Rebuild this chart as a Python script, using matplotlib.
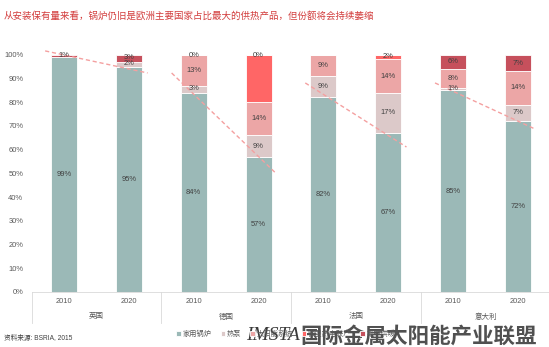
import matplotlib
matplotlib.use("Agg")
import matplotlib.pyplot as plt

plt.rcParams['font.family'] = ['Liberation Sans', 'Noto Sans CJK SC', 'DejaVu Sans']

countries = ["英国", "德国", "法国", "意大利"]
years = ["2010", "2020"]

series_names = ["家用锅炉", "热泵", "太阳能系统", "微型热电联产", "集中供暖"]
series_colors = ["#9bb9b7", "#dcc9c9", "#eca6a6", "#ff6666", "#c6505c"]

# shares per bar: UK10, UK20, DE10, DE20, FR10, FR20, IT10, IT20
boiler   = [99, 95, 84, 57, 82, 67, 85, 72]
heatpump = [0, 2, 3, 9, 9, 17, 1, 7]
solar    = [0, 0, 13, 14, 9, 14, 8, 14]
microchp = [0, 0, 0, 20, 0, 2, 0, 0]
district = [1, 3, 0, 0, 0, 0, 6, 7]

# which segment values carry a printed label
show_label = [
    [True] * 8,
    [False, True, True, True, True, True, True, True],
    [False, False, True, True, True, True, True, True],
    [False, False, False, False, False, True, False, False],
    [True, True, True, True, False, False, True, True],
]

# dashed trend guides per country (x in bar index units, y in %)
trend_lines = [
    ((-0.29, 101.6), (1.29, 92.3)),
    ((1.66, 92.3), (3.28, 49.7)),
    ((3.72, 88.1), (5.28, 61.1)),
    ((5.72, 88.1), (7.26, 68.7)),
]

W, H = 549, 347
fig = plt.figure(figsize=(W / 100, H / 100), dpi=100)

ax_left, ax_right = 31.5 / W, 550.5 / W
ax_bot, ax_top = (H - 292) / H, (H - 54.7) / H
ax = fig.add_axes([ax_left, ax_bot, ax_right - ax_left, ax_top - ax_bot])

series = [boiler, heatpump, solar, microchp, district]
xs = list(range(8))
bottoms = [0] * 8
for vals, col, name, lab in zip(series, series_colors, series_names, show_label):
    ax.bar(xs, vals, width=0.4, bottom=bottoms, color=col, edgecolor="white",
           linewidth=0.6, label=name)
    for i, v in enumerate(vals):
        if lab[i]:
            y = bottoms[i] + v / 2
            if v <= 3:
                y = bottoms[i] + v / 2 + 0.3
            if v == 0:
                y = bottoms[i] - 0.2
            if name == "家用锅炉":
                y = v / 2
            ax.text(i, y, f"{v}%", ha="center", va="center", fontsize=5.4,
                    color="#404040", zorder=6)
    bottoms = [b + v for b, v in zip(bottoms, vals)]

for (x0, y0), (x1, y1) in trend_lines:
    ax.plot([x0, x1], [y0, y1], ls=(0, (3, 2)), color="#f4a0a0", lw=1.0,
            zorder=5, clip_on=False)

ax.set_xlim(-0.5, 7.5)
ax.set_ylim(0, 100)
ax.set_yticks(range(0, 101, 10))
ax.set_yticklabels([f"{t}%" for t in range(0, 101, 10)], fontsize=5.4,
                   color="#595959")
ax.tick_params(axis="y", length=0, pad=6)
ax.set_xticks([])
for s in ["top", "right", "left"]:
    ax.spines[s].set_visible(False)
ax.spines["bottom"].set_color("#d9d9d9")
ax.spines["bottom"].set_linewidth(0.6)

# two-level category axis
for i in range(8):
    ax.text(i, -3.8, years[i % 2], ha="center", va="center", fontsize=5.4,
            color="#595959", clip_on=False)
for k, c in enumerate(countries):
    ax.text(2 * k + 0.5, -10.5, c, ha="center", va="center", fontsize=5.4,
            color="#595959", clip_on=False)
for k in range(5):
    ax.plot([2 * k - 0.5] * 2, [0, -13], color="#d9d9d9", lw=0.6,
            clip_on=False)

fig.text(4 / W, 1 - 16 / H,
         "从安装保有量来看，锅炉仍旧是欧洲主要国家占比最大的供热产品，但份额将会持续萎缩",
         fontsize=6.8, color="#d23b3b", ha="left", va="center")

fig.text(4 / W, 1 - 338 / H, "资料来源: BSRIA, 2015", fontsize=4.8,
         color="#404040", ha="left", va="center")

handles, labels = ax.get_legend_handles_labels()
fig.legend(handles, labels, loc="center left", bbox_to_anchor=(170 / W, 1 - 334 / H),
           ncol=5, frameon=False, fontsize=5.2, handlelength=0.6,
           handleheight=0.6, handletextpad=0.3, columnspacing=1.2,
           labelcolor="#595959")

fig.text(246 / W, 1 - 336 / H, "IMSTA", fontsize=14, style="italic",
         family="Liberation Serif", color="#3a3a3a", ha="left", va="center")
fig.text(300 / W, 1 - 336 / H, "国际金属太阳能产业联盟", fontsize=15.5,
         family="Noto Sans CJK SC", fontweight="bold", color="#505050",
         ha="left", va="center")

fig.savefig("out.png", dpi=100)
